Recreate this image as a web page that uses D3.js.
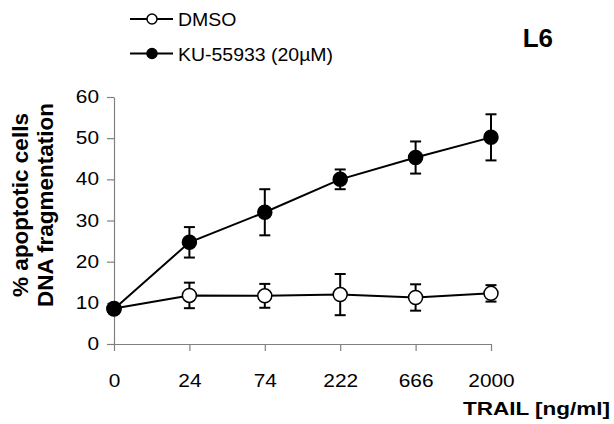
<!DOCTYPE html>
<html>
<head>
<meta charset="utf-8">
<script src="https://cdn.jsdelivr.net/npm/d3@7"></script>
<style>
  body { margin: 0; background: #fff; }
  svg { display: block; font-family: "Liberation Sans", Arial, sans-serif; }
</style>
</head>
<body>
<svg id="canvas"></svg>
<script>
let doses = ['0', '24', '74', '222', '666', '2000'];
let dmsoMean = [8.6, 11.8, 11.7, 12.0, 11.3, 12.3];
let dmsoErr = [0.5, 3.1, 2.9, 5.0, 3.2, 2.0];
let kuMean = [8.5, 24.7, 32.0, 40.0, 45.3, 50.2];
let kuErr = [0.5, 3.7, 5.6, 2.4, 3.9, 5.6];
let yTicks = [0, 10, 20, 30, 40, 50, 60];

let width = 614;
let height = 424;

// the original type is a little wider than Arial, so stretch it sideways
let stretch = 1.19;

let canvas = d3.select('#canvas')
    .attr('width', width)
    .attr('height', height);

let xScale = d3.scalePoint()
    .domain(doses)
    .range([114, 491]);

let yScale = d3.scaleLinear()
    .domain([0, 60])
    .range([344, 97]);

let axisColor = '#808080';

// axes
let xAxis = d3.axisBottom(xScale).tickSize(7).tickSizeOuter(0).tickPadding(24);
let yAxis = d3.axisLeft(yScale).tickValues(yTicks).tickSize(7).tickSizeOuter(0).tickPadding(0);

let gx = canvas.append('g')
    .attr('transform', `translate(0, ${yScale(0)})`)
    .call(xAxis);

let gy = canvas.append('g')
    .attr('transform', `translate(${xScale('0')}, 0)`)
    .call(yAxis);

[gx, gy].forEach(g => {
    g.select('.domain').attr('stroke', axisColor).attr('stroke-width', 1.2);
    g.selectAll('.tick line').attr('stroke', axisColor).attr('stroke-width', 1.2);
    g.selectAll('.tick text')
        .attr('fill', '#000')
        .style('font-size', '17.5px')
        .style('font-family', '"Liberation Sans", Arial, sans-serif');
});
gx.selectAll('.tick text').attr('transform', `scale(${stretch},1)`);
gy.selectAll('.tick text')
    .attr('x', 0)
    .attr('transform', `translate(-15,0) scale(${stretch},1)`);

// series
let series = [
    { name: 'DMSO', mean: dmsoMean, err: dmsoErr, fill: '#fff' },
    { name: 'KU-55933 (20µM)', mean: kuMean, err: kuErr, fill: '#000' }
];

let line = d3.line()
    .x(d => xScale(d.dose))
    .y(d => yScale(d.mean));

series.forEach(s => {
    let pts = doses.map((dose, i) => ({ dose: dose, mean: s.mean[i], err: s.err[i] }));
    let g = canvas.append('g');

    g.append('path')
        .datum(pts)
        .attr('d', line)
        .attr('fill', 'none')
        .attr('stroke', '#000')
        .attr('stroke-width', 2);

    let eb = g.selectAll('.err')
        .data(pts)
        .enter()
        .append('g')
        .attr('stroke', '#000')
        .attr('stroke-width', 2);

    eb.append('line')
        .attr('x1', d => xScale(d.dose))
        .attr('x2', d => xScale(d.dose))
        .attr('y1', d => yScale(d.mean + d.err))
        .attr('y2', d => yScale(d.mean - d.err));
    eb.append('line')
        .attr('x1', d => xScale(d.dose) - 5.5)
        .attr('x2', d => xScale(d.dose) + 5.5)
        .attr('y1', d => yScale(d.mean + d.err))
        .attr('y2', d => yScale(d.mean + d.err));
    eb.append('line')
        .attr('x1', d => xScale(d.dose) - 5.5)
        .attr('x2', d => xScale(d.dose) + 5.5)
        .attr('y1', d => yScale(d.mean - d.err))
        .attr('y2', d => yScale(d.mean - d.err));

    g.selectAll('circle')
        .data(pts)
        .enter()
        .append('circle')
        .attr('cx', d => xScale(d.dose))
        .attr('cy', d => yScale(d.mean))
        .attr('r', 7)
        .attr('fill', s.fill)
        .attr('stroke', '#000')
        .attr('stroke-width', 1.5);
});

// legend
let legend = canvas.append('g');
series.forEach((s, i) => {
    let y = 19 + i * 34.5;
    legend.append('line')
        .attr('x1', 130).attr('x2', 173)
        .attr('y1', y).attr('y2', y)
        .attr('stroke', '#000').attr('stroke-width', 2);
    legend.append('circle')
        .attr('cx', 152).attr('cy', y)
        .attr('r', 5)
        .attr('fill', s.fill)
        .attr('stroke', '#000').attr('stroke-width', 1.5);
    legend.append('text')
        .attr('transform', `translate(178, ${y + 7}) scale(1.1,1)`)
        .style('font-size', '17.7px')
        .text(s.name);
});

// labels
canvas.append('text')
    .attr('x', 553).attr('y', 47)
    .attr('text-anchor', 'end')
    .style('font-size', '26px')
    .style('font-weight', 'bold')
    .text('L6');

canvas.append('text')
    .attr('transform', 'translate(610, 415) scale(1.25,1)')
    .attr('text-anchor', 'end')
    .style('font-size', '18px')
    .style('font-weight', 'bold')
    .text('TRAIL [ng/ml]');

let yLabel = canvas.append('text')
    .attr('transform', 'translate(0, 205) rotate(-90)')
    .attr('text-anchor', 'middle')
    .style('font-size', '22.5px')
    .style('font-weight', 'bold');
yLabel.append('tspan').attr('x', 0).attr('y', 28).text('% apoptotic cells');
yLabel.append('tspan').attr('x', 0).attr('y', 53).text('DNA fragmentation');
</script>
</body>
</html>
